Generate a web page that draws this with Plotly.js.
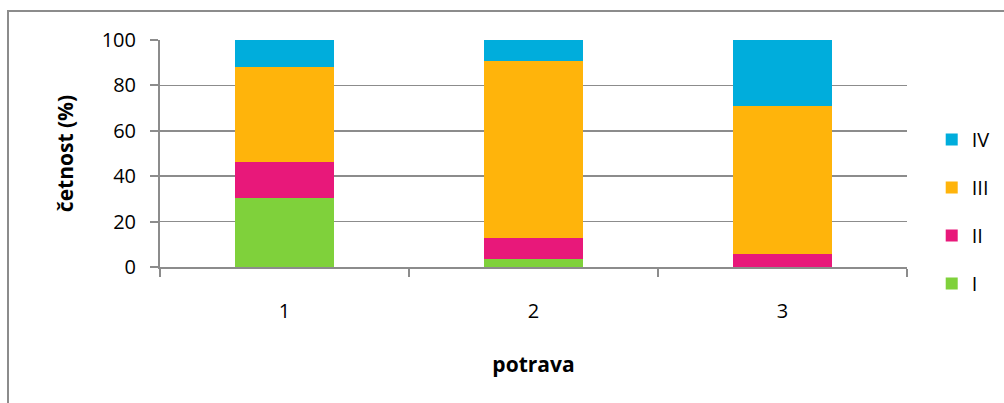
<!DOCTYPE html>
<html>
<head>
<meta charset="utf-8">
<script src="https://cdn.plot.ly/plotly-3.0.1.min.js"></script>
<style>
  html, body { margin: 0; padding: 0; background: #fff; }
  #wrap { position: relative; width: 1004px; height: 403px; overflow: hidden; }
  #chart { position: absolute; left: 0; top: 0; width: 1004px; height: 403px; }
  #frame { position: absolute; left: 7px; top: 10px; width: 1100px; height: 500px;
           border-left: 2px solid #8c8c8c; border-top: 2px solid #8c8c8c; pointer-events: none; }
</style>
</head>
<body>
<div id="wrap">
  <div id="chart"></div>
  <div id="frame"></div>
</div>
<script>
const categories = ['1', '2', '3'];
const seriesNames = ['I', 'II', 'III', 'IV'];
const seriesI   = [30.5, 3.5, 0];
const seriesII  = [15.9, 9.4, 5.7];
const seriesIII = [41.8, 77.8, 65.2];
const seriesIV  = [11.8, 9.3, 29.1];
const colors = ['#7FD13B', '#E8187A', '#FFB40B', '#00ADDC'];
const yTicks = [0, 20, 40, 60, 80, 100];

const allSeries = [seriesI, seriesII, seriesIII, seriesIV];
const FONT = 'Open Sans, Lato, Liberation Sans, sans-serif';

const traces = allSeries.map((vals, i) => ({
  type: 'bar',
  name: seriesNames[i],
  x: categories,
  y: vals,
  marker: { color: colors[i], line: { width: 0 } },
  legendgroup: 'g' + i,
  legendrank: 100 - i,
  hoverinfo: 'skip'
}));

const layout = {
  width: 1004,
  height: 403,
  barmode: 'stack',
  bargap: 0.6,
  margin: { l: 160, r: 97, t: 40, b: 136, autoexpand: false },
  paper_bgcolor: '#ffffff',
  plot_bgcolor: '#ffffff',
  font: { family: FONT, size: 20, color: '#000000' },
  showlegend: true,
  legend: {
    xref: 'container', yref: 'container',
    x: 0.928, xanchor: 'left',
    y: 0.475, yanchor: 'middle',
    traceorder: 'grouped',
    tracegroupgap: 19,
    font: { family: FONT, size: 20, color: '#000000' },
    bgcolor: 'rgba(0,0,0,0)'
  },
  xaxis: {
    type: 'category',
    tickson: 'boundaries',
    ticks: 'outside',
    ticklen: 8,
    tickwidth: 2,
    tickcolor: '#8c8c8c',
    showline: true,
    linecolor: '#8c8c8c',
    linewidth: 2,
    showgrid: false,
    ticklabelstandoff: 25,
    tickfont: { family: FONT, size: 20, color: '#000' },
    title: { text: 'potrava', font: { family: FONT, size: 21, color: '#000', weight: 'bold' }, standoff: 34 }
  },
  yaxis: {
    range: [0, 100],
    tickvals: yTicks,
    ticktext: yTicks.map(String),
    ticks: 'outside',
    ticklen: 8,
    tickwidth: 2,
    tickcolor: '#8c8c8c',
    showline: true,
    linecolor: '#8c8c8c',
    linewidth: 2,
    showgrid: true,
    gridcolor: '#8c8c8c',
    gridwidth: 1.5,
    zeroline: false,
    ticklabelstandoff: 10,
    tickfont: { family: FONT, size: 20, color: '#000' },
    title: { text: 'četnost (%)', font: { family: FONT, size: 21, color: '#000', weight: 'bold' }, standoff: 22 }
  }
};

Plotly.newPlot('chart', traces, layout, { staticPlot: true, displayModeBar: false });
</script>
</body>
</html>
